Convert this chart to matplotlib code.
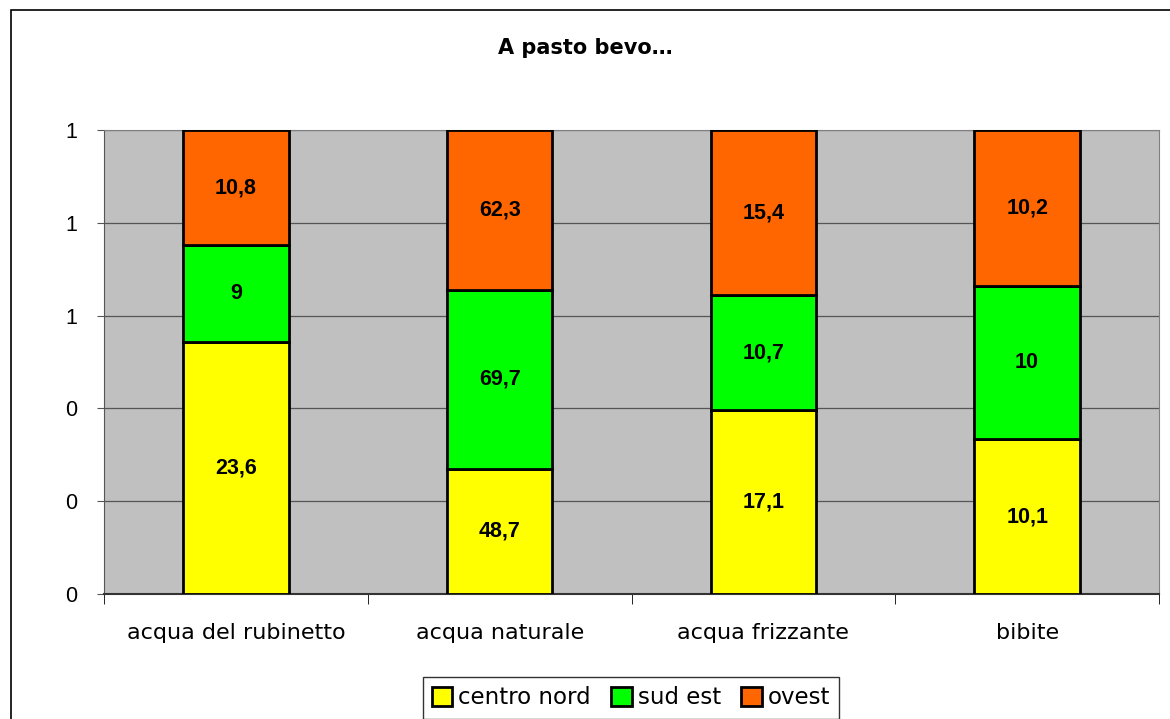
import numpy as np
import matplotlib.pyplot as plt
from matplotlib.patches import Rectangle

# dati del grafico
categorie = ["acqua del rubinetto", "acqua naturale", "acqua frizzante", "bibite"]
centro_nord = [23.6, 48.7, 17.1, 10.1]
sud_est = [9, 69.7, 10.7, 10]
ovest = [10.8, 62.3, 15.4, 10.2]
serie = ["centro nord", "sud est", "ovest"]
colori = ["#FFFF00", "#00FF00", "#FF6600"]
yticks = [0, 0.2, 0.4, 0.6, 0.8, 1.0]

dati = np.array([centro_nord, sud_est, ovest])
totali = dati.sum(axis=0)
quote = dati / totali

fig = plt.figure(figsize=(11.7, 7.19), dpi=100)
# bordo esterno del grafico
fig.patches.append(Rectangle((11 / 1170, -0.1), 1.2, 1 - 10 / 719 + 0.1,
                             transform=fig.transFigure, fill=False,
                             edgecolor="black", linewidth=1.2))

ax = fig.add_axes([104 / 1170, 1 - 594 / 719, 1055 / 1170, 464 / 719])
ax.set_facecolor("#C0C0C0")

x = np.arange(len(categorie))
base = np.zeros(len(categorie))
for i in range(len(serie)):
    ax.bar(x, quote[i], 0.4, bottom=base, color=colori[i], edgecolor="black",
           linewidth=2, label=serie[i], zorder=3)
    for j in range(len(categorie)):
        testo = ("%g" % dati[i, j]).replace(".", ",")
        ax.text(x[j], base[j] + quote[i, j] / 2, testo, ha="center", va="center",
                fontsize=15.5, fontweight="bold", family="Liberation Sans", zorder=4)
    base = base + quote[i]

ax.set_xlim(-0.5, len(categorie) - 0.5)
ax.set_ylim(0, 1)
ax.set_yticks(yticks)
ax.set_yticklabels(["%.0f" % v for v in yticks], family="Liberation Sans", fontsize=15.5)
ax.yaxis.grid(True, color="#555555", linewidth=0.9, zorder=1)
ax.tick_params(axis="y", length=5, pad=14, color="#555555")

ax.set_xticks(x)
ax.set_xticklabels(categorie, fontsize=16)
ax.set_xticks(np.arange(len(categorie) + 1) - 0.5, minor=True)
ax.tick_params(axis="x", which="major", length=0, pad=21)
ax.tick_params(axis="x", which="minor", length=7, color="black")

for s in ["top", "right"]:
    ax.spines[s].set_color("#808080")
ax.spines["left"].set_color("#555555")
ax.spines["bottom"].set_color("#333333")
ax.spines["bottom"].set_linewidth(1.5)

fig.text(0.5, 1 - 48 / 719, "A pasto bevo…", ha="center", va="center",
         fontsize=15, fontweight="bold")

leg = fig.legend(loc="center", bbox_to_anchor=(631 / 1170, 1 - 698 / 719), ncol=3,
                 fontsize=16.5, frameon=True, fancybox=False, edgecolor="black",
                 handlelength=0.9, handleheight=0.9, handletextpad=0.25,
                 columnspacing=0.9, borderpad=0.4, borderaxespad=0)
leg.get_frame().set_linewidth(1)
for h in leg.legend_handles:
    h.set_linewidth(2)

fig.savefig("out.png", dpi=100)
